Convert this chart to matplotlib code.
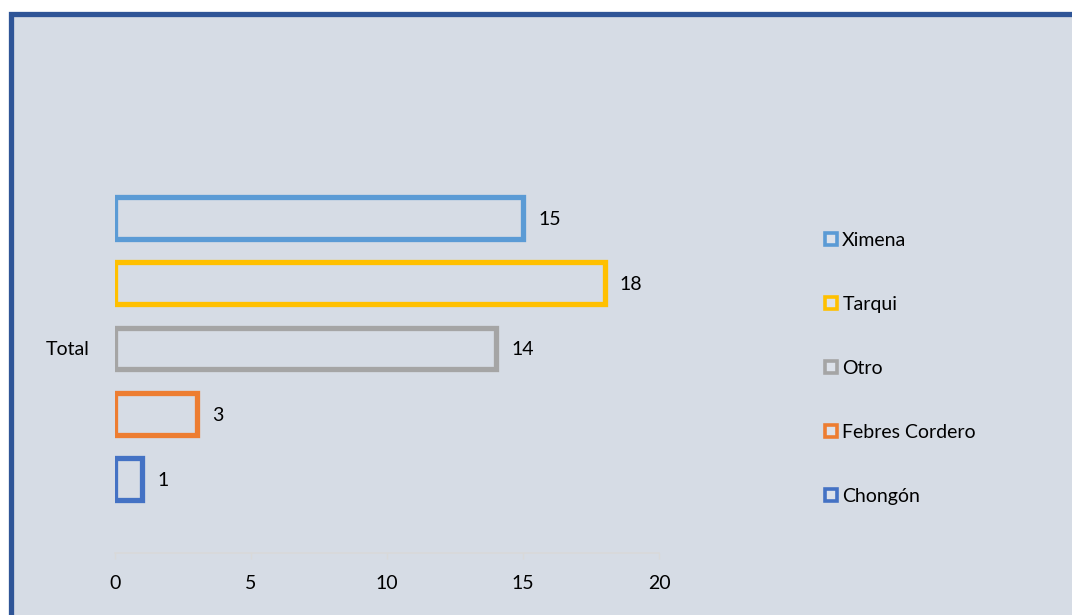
import matplotlib.pyplot as plt
from matplotlib.patches import Rectangle
from matplotlib.lines import Line2D

# series, drawn bottom to top
series = ["Chongón", "Febres Cordero", "Otro", "Tarqui", "Ximena"]
values = [1, 3, 14, 18, 15]
colors = ["#4472C4", "#ED7D31", "#A5A5A5", "#FFC000", "#5B9BD5"]
category = "Total"
xticks = [0, 5, 10, 15, 20]

bg = "#D6DCE5"
fs = 14
plt.rcParams["font.family"] = ["Lato", "DejaVu Sans"]

fig = plt.figure(figsize=(10.72, 6.15), dpi=100)
fig.patch.set_facecolor("white")

# dark blue frame around the chart area
frame = Rectangle((10.5 / 1072, -0.2), 1.5, 1.2 - 13.5 / 615,
                  transform=fig.transFigure, facecolor=bg, edgecolor="#2F5597",
                  linewidth=3.8, zorder=-5)
fig.patches.append(frame)

ax = fig.add_axes([115 / 1072, 62 / 615, 544 / 1072, 403 / 615])
ax.set_facecolor("none")
ax.set_zorder(2)

pos = list(range(len(series)))
ax.barh(pos, values, height=0.64, fill=False, edgecolor=colors, linewidth=3.8)
for p, v in zip(pos, values):
    ax.annotate(str(v), (v, p), xytext=(11, -1), textcoords="offset points",
                va="center", ha="left", fontsize=fs, color="#000000")

ax.set_xlim(0, 20)
ax.set_ylim(-1.134, 5.042)
ax.set_xticks(xticks)
ax.set_xticklabels([str(t) for t in xticks], fontsize=fs)
ax.set_yticks([2])
ax.set_yticklabels([category], fontsize=fs)

for s in ["top", "right", "left"]:
    ax.spines[s].set_visible(False)
ax.spines["bottom"].set_color("#D9D9D9")
ax.spines["bottom"].set_linewidth(1.2)
ax.tick_params(axis="x", length=4, color="#D9D9D9", width=1.0, pad=12)
ax.tick_params(axis="y", length=0, pad=18)

handles = [Line2D([], [], linestyle="none", marker="s", markersize=8,
                  markerfacecolor="#DDE2EA", markeredgecolor=c, markeredgewidth=2.6)
           for c in colors[::-1]]
leg = fig.legend(handles, series[::-1], loc="upper left",
                 bbox_to_anchor=(817 / 1072, 1 - 224 / 615),
                 frameon=False, fontsize=fs, labelspacing=2.42, handlelength=0.6,
                 handletextpad=0.3, borderaxespad=0)
leg.set_zorder(3)

fig.savefig("out.png", dpi=100, facecolor=fig.get_facecolor())
